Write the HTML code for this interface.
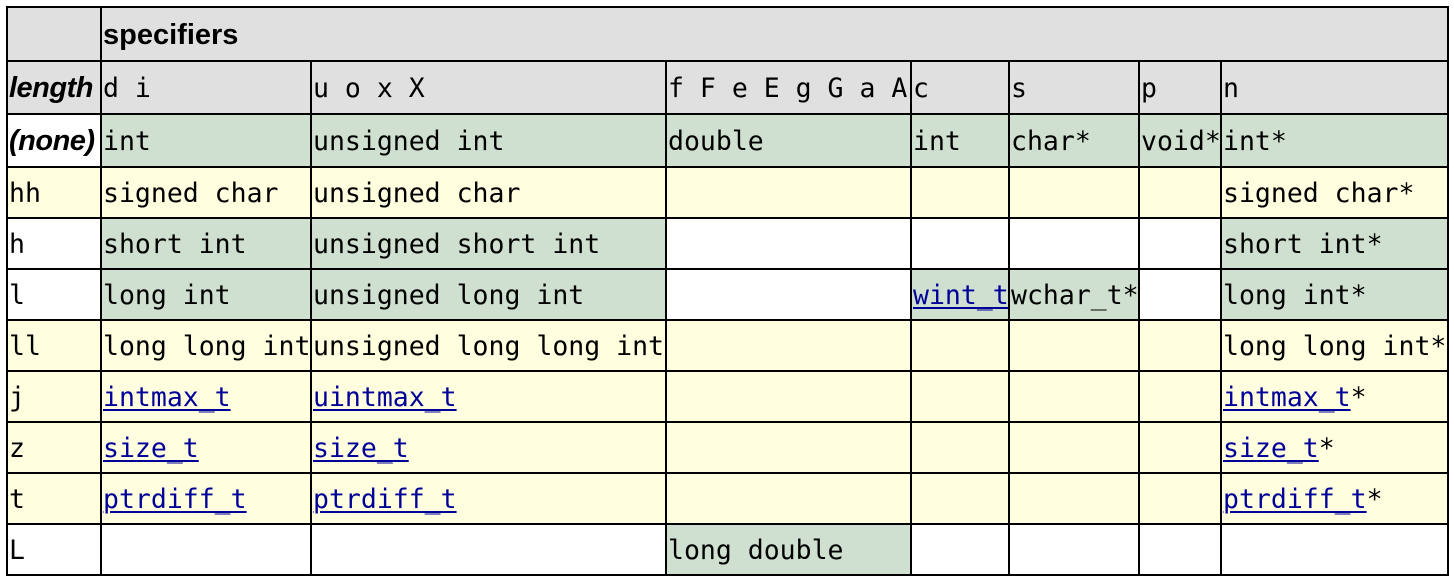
<!DOCTYPE html>
<html><head><meta charset="utf-8"><style>
body{margin:0;width:1454px;height:582px;background:#fff;position:relative;overflow:hidden}
.c{position:absolute;box-sizing:border-box;display:flex;align-items:center;padding-left:2px;padding-top:2px;white-space:nowrap;font-family:"DejaVu Sans Mono","Liberation Mono",monospace;font-size:26.5px;color:#000;overflow:visible}
.h{background:#e0e0e0}.g{background:#d0e0d0}.y{background:#ffffe0}.w{background:#fff}
.s{font-family:"Liberation Sans",sans-serif;font-weight:bold;font-style:italic;font-size:29px;letter-spacing:-0.5px}
.hd{font-family:"Liberation Sans",sans-serif;font-weight:bold;font-size:29px}
a{color:#000099;text-decoration:underline;text-underline-offset:3px;text-decoration-thickness:2px}
.l{position:absolute;background:#000}
</style></head><body>
<div id="t"></div>
<script>
const X=[7,101,311,666,911,1009,1139,1221,1448];
const Y=[7,61,114,167,218,269,320,371,422,473,524,575];
const L=t=>'<a>'+t+'</a>';
const rows=[
 [['h','<span class="s">length</span>'],['h','d i'],['h','u o x X'],['h','f F e E g G a A'],['h','c'],['h','s'],['h','p'],['h','n']],
 [['w','<span class="s">(none)</span>'],['g','int'],['g','unsigned int'],['g','double'],['g','int'],['g','char*'],['g','void*'],['g','int*']],
 [['y','hh'],['y','signed char'],['y','unsigned char'],['y',''],['y',''],['y',''],['y',''],['y','signed char*']],
 [['w','h'],['g','short int'],['g','unsigned short int'],['w',''],['w',''],['w',''],['w',''],['g','short int*']],
 [['w','l'],['g','long int'],['g','unsigned long int'],['w',''],['g',L('wint_t')],['g','wchar_t*'],['w',''],['g','long int*']],
 [['y','ll'],['y','long long int'],['y','unsigned long long int'],['y',''],['y',''],['y',''],['y',''],['y','long long int*']],
 [['y','j'],['y',L('intmax_t')],['y',L('uintmax_t')],['y',''],['y',''],['y',''],['y',''],['y',L('intmax_t')+'*']],
 [['y','z'],['y',L('size_t')],['y',L('size_t')],['y',''],['y',''],['y',''],['y',''],['y',L('size_t')+'*']],
 [['y','t'],['y',L('ptrdiff_t')],['y',L('ptrdiff_t')],['y',''],['y',''],['y',''],['y',''],['y',L('ptrdiff_t')+'*']],
 [['w','L'],['w',''],['w',''],['g','long double'],['w',''],['w',''],['w',''],['w','']]
];
let h='';
const cell=(x1,y1,x2,y2,cls,txt)=>`<div class="c ${cls}" style="left:${x1}px;top:${y1}px;width:${x2-x1}px;height:${y2-y1}px">${txt}</div>`;
h+=cell(X[0],Y[0],X[1],Y[1],'h','');
h+=cell(X[1],Y[0],X[8],Y[1],'h','<span class="hd">specifiers</span>');
rows.forEach((r,ri)=>r.forEach((c,ci)=>{h+=cell(X[ci],Y[ri+1],X[ci+1],Y[ri+2],c[0],c[1]);}));
for(let i=0;i<Y.length;i++)h+=`<div class="l" style="left:${X[0]-1}px;top:${Y[i]-1}px;width:${X[8]-X[0]+2}px;height:2px"></div>`;
for(let i=0;i<X.length;i++){let top=(i==0||i==1||i==8)?Y[0]:Y[1];h+=`<div class="l" style="left:${X[i]-1}px;top:${top-1}px;width:2px;height:${Y[11]-top+2}px"></div>`;}
document.getElementById('t').innerHTML=h;
</script>
</body></html>
